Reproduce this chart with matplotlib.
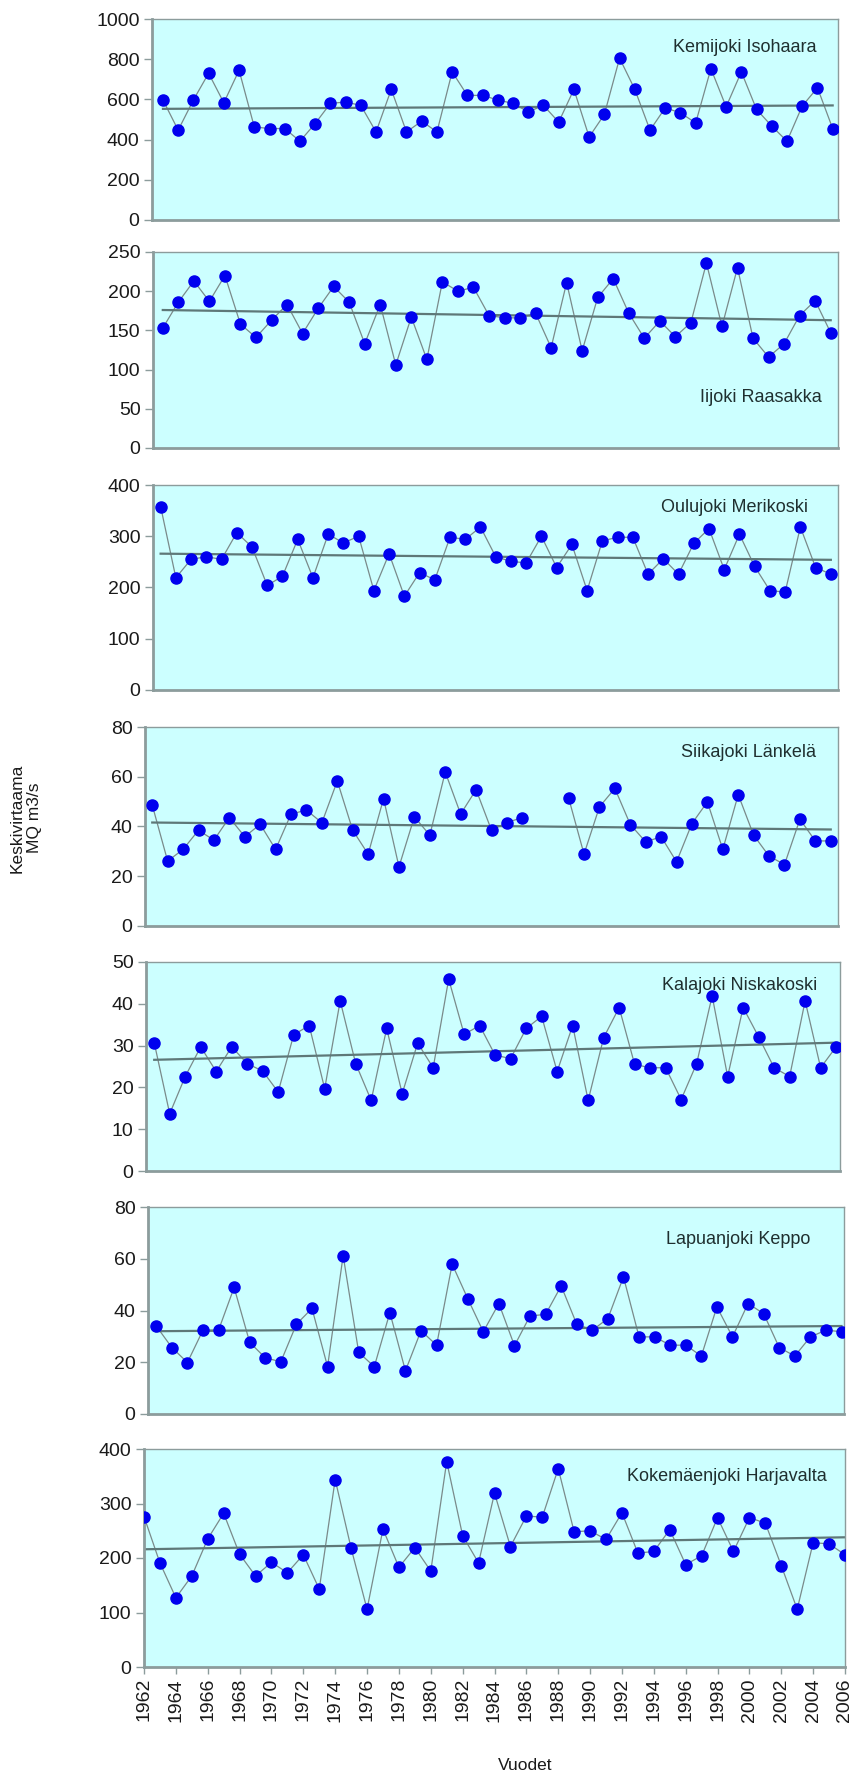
import numpy as np
import matplotlib
matplotlib.use("Agg")
import matplotlib.pyplot as plt

plt.rcParams['font.family'] = ['Liberation Sans', 'DejaVu Sans']

years_full = list(range(1962, 2007))
years_iijoki = list(range(1962, 2006))

kemijoki = [597, 447, 597, 730, 583, 745, 463, 455, 455, 392, 480, 580, 587, 570, 438,
            650, 438, 492, 438, 737, 620, 620, 597, 580, 538, 570, 487, 650, 413, 525,
            805, 650, 447, 558, 533, 483, 753, 563, 737, 550, 467, 392, 567, 658, 455]
iijoki = [153, 186, 213, 187, 220, 158, 141, 163, 183, 146, 178, 206, 186, 133, 183,
          106, 167, 113, 212, 200, 205, 169, 166, 166, 172, 128, 211, 124, 192, 216,
          172, 140, 162, 142, 160, 236, 155, 230, 140, 116, 133, 169, 188, 147]
oulujoki = [358, 219, 255, 260, 255, 307, 279, 204, 222, 294, 219, 304, 287, 300, 194,
            266, 183, 229, 215, 298, 294, 318, 260, 251, 248, 300, 239, 284, 194, 291,
            298, 298, 226, 256, 226, 286, 315, 235, 304, 241, 194, 191, 318, 239, 226]
siikajoki = [48.6, 26.1, 30.8, 38.5, 34.5, 43.6, 35.9, 40.9, 30.8, 45.0, 46.6, 41.5, 58.3,
             38.5, 28.9, 51.2, 23.8, 43.9, 36.5, 61.9, 45.0, 54.8, 38.5, 41.6, 43.6, np.nan,
             np.nan, 51.5, 28.9, 47.9, 55.3, 40.8, 33.8, 35.9, 25.8, 41.2, 49.9, 30.8, 52.8,
             36.5, 28.1, 24.7, 42.9, 34.2, 34.2]
kalajoki = [30.7, 13.7, 22.6, 29.7, 23.8, 29.7, 25.7, 23.9, 18.9, 32.6, 34.8, 19.7, 40.7,
            25.7, 16.9, 34.1, 18.5, 30.6, 24.7, 45.9, 32.7, 34.8, 27.7, 26.9, 34.1, 37.0,
            23.8, 34.8, 16.9, 31.9, 39.1, 25.5, 24.7, 24.7, 17.1, 25.7, 41.9, 22.6, 39.1,
            32.1, 24.7, 22.6, 40.7, 24.7, 29.7]
lapuanjoki = [34.0, 25.7, 19.9, 32.4, 32.4, 48.9, 27.7, 21.7, 20.2, 34.7, 40.8, 18.3, 61.2,
              23.8, 18.3, 39.2, 16.7, 32.2, 26.6, 57.9, 44.6, 31.8, 42.7, 26.4, 37.9, 38.5,
              49.5, 34.7, 32.4, 36.9, 53.0, 29.8, 29.8, 26.6, 26.6, 22.4, 41.4, 29.8, 42.7,
              38.8, 25.7, 22.4, 29.8, 32.4, 31.8]
kokemaenjoki = [276, 191, 127, 167, 235, 282, 207, 167, 192, 173, 206, 143, 344, 218, 106,
                253, 183, 219, 176, 377, 241, 191, 319, 221, 277, 275, 364, 248, 250, 234,
                283, 209, 212, 252, 188, 204, 274, 212, 274, 264, 186, 106, 228, 226, 206]

station_names = ["Kemijoki Isohaara", "Iijoki Raasakka", "Oulujoki Merikoski",
                 "Siikajoki Länkelä", "Kalajoki Niskakoski", "Lapuanjoki Keppo",
                 "Kokemäenjoki Harjavalta"]
series = [kemijoki, iijoki, oulujoki, siikajoki, kalajoki, lapuanjoki, kokemaenjoki]
series_years = [years_full, years_iijoki, years_full, years_full, years_full, years_full, years_full]
# trend line values at first and last year
trend_start = [553, 176, 266, 41.6, 26.6, 32.0, 216]
trend_end = [570, 163, 254, 38.8, 30.7, 34.0, 238]
y_max = [1000, 250, 400, 80, 50, 80, 400]
y_step = [200, 50, 100, 20, 10, 20, 100]
x_tick_labels = [str(y) for y in range(1962, 2007, 2)]

# layout (pixels): left, right, top, bottom
W, H = 853, 1775
boxes = [(152, 838, 19, 220), (153, 838, 252, 448), (153, 838, 485, 690),
         (145, 838, 727, 926), (146, 840, 962, 1171), (148, 844, 1207, 1414),
         (144, 845, 1449, 1667)]
xlims = [(1961.28, 2006.35), (1961.37, 2005.47), (1961.5, 2006.47), (1961.53, 2006.47),
         (1961.47, 2006.25), (1961.47, 2006.16), (1962, 2006)]
label_pos = [(0.969, 0.857), (0.977, 0.256), (0.956, 0.888), (0.968, 0.873),
             (0.967, 0.889), (0.951, 0.844), (0.974, 0.872)]

bg = '#CCFFFF'
spine_c = '#8c9c9c'

fig = plt.figure(figsize=(W / 100, H / 100), dpi=100)

for i in range(7):
    l, r, t, b = boxes[i]
    ax = fig.add_axes([l / W, 1 - b / H, (r - l) / W, (b - t) / H])
    ax.set_facecolor(bg)
    yrs = series_years[i]
    vals = series[i]
    ax.plot(yrs, vals, color='#7a8a8a', lw=0.9, zorder=2)
    ax.plot(yrs, vals, linestyle='none', marker='o', markersize=8,
            markerfacecolor='#0000EE', markeredgecolor='#0000EE', zorder=3)
    ax.plot([yrs[0], yrs[-1]], [trend_start[i], trend_end[i]], color='#5e7878', lw=1.6, zorder=2.5)
    ax.set_xlim(*xlims[i])
    ax.set_ylim(0, y_max[i])
    ax.set_yticks(np.arange(0, y_max[i] + 0.001, y_step[i]))
    ax.set_yticklabels([str(int(v)) for v in np.arange(0, y_max[i] + 0.001, y_step[i])])
    for s in ax.spines.values():
        s.set_color(spine_c)
        s.set_linewidth(1.0)
    ax.spines['left'].set_linewidth(2.0)
    ax.spines['bottom'].set_linewidth(2.0)
    ax.tick_params(axis='y', direction='out', length=6, width=1, color=spine_c,
                   labelsize=14, labelcolor='#1a1a1a', pad=3)
    ax.text(label_pos[i][0], label_pos[i][1], station_names[i], transform=ax.transAxes,
            ha='right', va='center', fontsize=13, color='#1f2f2f', zorder=4)
    if i == 6:
        ax.set_xticks(range(1962, 2007, 2))
        ax.set_xticklabels(x_tick_labels, rotation=90)
        ax.tick_params(axis='x', direction='out', length=5, width=1, color=spine_c,
                       labelsize=14, labelcolor='#1a1a1a', pad=3)
    else:
        ax.set_xticks([])

fig.text(26 / W, 1 - 818 / H, "Keskivirtaama\nMQ m3/s", rotation=90, ha='center', va='center',
         fontsize=12.5, color='#1a1a1a', linespacing=1.2)
fig.text(525 / W, 1 - 1765 / H, "Vuodet", ha='center', va='center', fontsize=12.5, color='#1a1a1a')

fig.savefig("out.png", dpi=100, facecolor='white')
